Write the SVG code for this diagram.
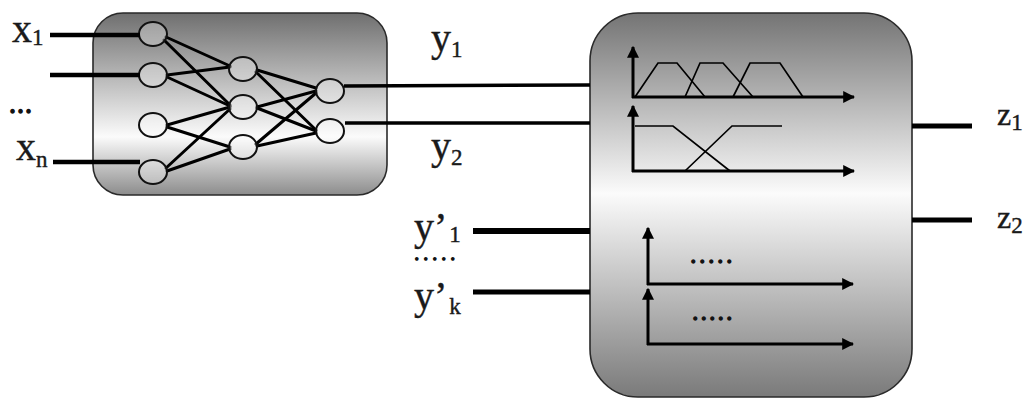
<svg xmlns="http://www.w3.org/2000/svg" width="1034" height="398" viewBox="0 0 1034 398">
  <defs>
    <linearGradient id="gradNet" x1="0" y1="0" x2="0" y2="1">
      <stop offset="0" stop-color="#6f6f6f"/>
      <stop offset="0.68" stop-color="#fbfbfb"/>
      <stop offset="1" stop-color="#8c8c8c"/>
    </linearGradient>
    <linearGradient id="gradFuzzy" x1="0" y1="0" x2="0" y2="1">
      <stop offset="0" stop-color="#747474"/>
      <stop offset="0.47" stop-color="#fbfbfb"/>
      <stop offset="1" stop-color="#7a7a7a"/>
    </linearGradient>
    <marker id="arrow" viewBox="0 0 10 10" refX="9" refY="5" markerWidth="4" markerHeight="4" markerUnits="strokeWidth" orient="auto">
      <path d="M0,0 L10,5 L0,10 z" fill="#000"/>
    </marker>
  </defs>
  <style>
    .box { stroke: #2a2a2a; stroke-width: 1.6; }
    .neuron { fill: #ffffff; fill-opacity: 0.3; stroke: #111; stroke-width: 2; }
    .syn { stroke: #000; stroke-width: 3; fill: none; stroke-linecap: round; }
    .wire { stroke: #000; fill: none; }
    .axis { stroke: #000; stroke-width: 3; fill: none; marker-end: url(#arrow); }
    .mf { stroke: #000; stroke-width: 1.7; fill: none; }
    .lbl { font-family: "Liberation Serif", "Times New Roman", serif; fill: #1a1a1a; stroke: #1a1a1a; stroke-width: 0.4; }
    .big { font-size: 40px; }
    .sub { font-size: 23px; }
    .dots { font-family: "Liberation Serif", serif; font-weight: bold; fill: #111; stroke: #111; stroke-width: 1.4; stroke-linejoin: miter; }
  </style>

  <!-- neural network block -->
  <g id="neural-net">
    <rect class="box" x="93" y="13" width="294" height="182" rx="30" ry="30" fill="url(#gradNet)"/>
    <!-- synapses: input layer to hidden layer -->
    <g>
      <line class="syn" x1="166" y1="37" x2="230" y2="66"/>
      <line class="syn" x1="164" y1="40" x2="230" y2="105"/>
      <line class="syn" x1="167" y1="75" x2="230" y2="67"/>
      <line class="syn" x1="167" y1="77" x2="230" y2="106"/>
      <line class="syn" x1="167" y1="125" x2="230" y2="107"/>
      <line class="syn" x1="167" y1="127" x2="230" y2="147"/>
      <line class="syn" x1="166" y1="168" x2="230" y2="109"/>
      <line class="syn" x1="167" y1="171" x2="230" y2="149"/>
      <!-- hidden layer to output layer -->
      <line class="syn" x1="257" y1="70" x2="316" y2="88"/>
      <line class="syn" x1="256" y1="72" x2="316" y2="130"/>
      <line class="syn" x1="257" y1="107" x2="316" y2="91"/>
      <line class="syn" x1="257" y1="108" x2="316" y2="131"/>
      <line class="syn" x1="256" y1="144" x2="316" y2="93"/>
      <line class="syn" x1="257" y1="146" x2="316" y2="133"/>
    </g>
    <!-- neurons -->
    <ellipse class="neuron" cx="153" cy="34" rx="14" ry="12"/>
    <ellipse class="neuron" cx="153" cy="75" rx="14" ry="12"/>
    <ellipse class="neuron" cx="153" cy="125" rx="14" ry="12"/>
    <ellipse class="neuron" cx="153" cy="172" rx="14" ry="12"/>
    <ellipse class="neuron" cx="243" cy="69" rx="14" ry="12"/>
    <ellipse class="neuron" cx="243" cy="107" rx="14" ry="12"/>
    <ellipse class="neuron" cx="243" cy="147" rx="14" ry="12"/>
    <ellipse class="neuron" cx="330" cy="91" rx="14" ry="12"/>
    <ellipse class="neuron" cx="330" cy="131" rx="14" ry="12"/>
  </g>

  <!-- fuzzy inference block -->
  <g id="fuzzy-system">
    <rect class="box" x="590" y="13" width="322" height="384" rx="48" ry="48" fill="url(#gradFuzzy)"/>
    <!-- first input: three trapezoidal sets -->
    <line class="axis" x1="633" y1="98" x2="633" y2="47"/>
    <line class="axis" x1="632" y1="97" x2="854" y2="97"/>
    <polyline class="mf" points="635,97 658,63 677,63 705,97"/>
    <polyline class="mf" points="685,97 700,63 723,63 753,97"/>
    <polyline class="mf" points="733,97 750,63 780,63 803,97"/>
    <!-- second input: two shoulder sets -->
    <line class="axis" x1="633" y1="172" x2="633" y2="106"/>
    <line class="axis" x1="632" y1="171" x2="854" y2="171"/>
    <polyline class="mf" points="635,126 673,126 730,171"/>
    <polyline class="mf" points="685,171 732,126 782,126"/>
    <!-- further inputs -->
    <line class="axis" x1="648" y1="285" x2="648" y2="228"/>
    <line class="axis" x1="647" y1="284" x2="853" y2="284"/>
    <text class="dots" x="691" y="263" font-size="18" letter-spacing="4.5">.....</text>
    <line class="axis" x1="648" y1="345" x2="648" y2="289"/>
    <line class="axis" x1="647" y1="344" x2="853" y2="344"/>
    <text class="dots" x="693" y="320" font-size="18" letter-spacing="4">.....</text>
  </g>

  <!-- connectors -->
  <g id="connectors">
    <line class="wire" x1="50" y1="35" x2="140" y2="35" stroke-width="4.5"/>
    <line class="wire" x1="50" y1="75" x2="140" y2="75" stroke-width="4.5"/>
    <line class="wire" x1="53" y1="162" x2="140" y2="162" stroke-width="4.5"/>
    <line class="wire" x1="344" y1="86" x2="590" y2="85" stroke-width="3.5"/>
    <line class="wire" x1="345" y1="123" x2="590" y2="123" stroke-width="3.5"/>
    <line class="wire" x1="473" y1="231" x2="590" y2="231" stroke-width="6"/>
    <line class="wire" x1="473" y1="292" x2="590" y2="292" stroke-width="5"/>
    <line class="wire" x1="912" y1="126" x2="972" y2="126" stroke-width="5"/>
    <line class="wire" x1="912" y1="220" x2="972" y2="220" stroke-width="5"/>
  </g>

  <!-- labels -->
  <g id="labels">
    <text class="lbl big" x="12" y="42">x<tspan class="sub" dy="3">1</tspan></text>
    <text class="dots" x="10" y="113" font-size="20" letter-spacing="3">...</text>
    <text class="lbl big" x="16" y="160">x<tspan class="sub" dy="7">n</tspan></text>
    <text class="lbl big" x="431" y="51">y<tspan class="sub" dy="6">1</tspan></text>
    <text class="lbl big" x="431" y="159">y<tspan class="sub" dy="6">2</tspan></text>
    <text class="lbl big" x="414" y="240">y’<tspan class="sub" dx="2" dy="2">1</tspan></text>
    <text class="dots" x="415" y="260" font-size="14" letter-spacing="5.5">.....</text>
    <text class="lbl big" x="414" y="309">y’<tspan class="sub" dx="2" dy="5">k</tspan></text>
    <text class="lbl" x="997" y="125" font-size="32">z<tspan class="sub" dy="5">1</tspan></text>
    <text class="lbl" x="997" y="228" font-size="32">z<tspan class="sub" dy="5">2</tspan></text>
  </g>
</svg>
